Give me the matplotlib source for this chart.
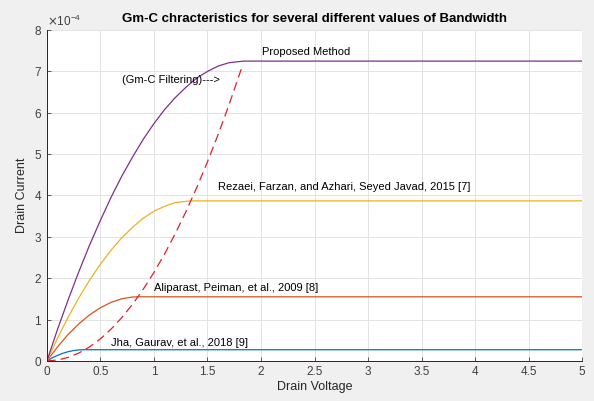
import numpy as np
from matplotlib import pyplot as plt
from matplotlib.ticker import ScalarFormatter

plt.rcParams['font.family'] = ['Liberation Sans', 'DejaVu Sans']

# curve points (x in V, y in units of 1e-4 A)
x_prop = [0, 0.1, 0.2, 0.3, 0.4, 0.5, 0.6, 0.7, 0.8, 0.9, 1.0, 1.1, 1.2, 1.3, 1.4, 1.5, 1.6, 1.7, 1.84, 5]
y_prop = [0, 0.77, 1.49, 2.17, 2.81, 3.40, 3.96, 4.47, 4.93, 5.36, 5.74, 6.08, 6.37, 6.62, 6.84, 7.00, 7.13, 7.21, 7.25, 7.25]

x_rez = [0, 0.1, 0.2, 0.3, 0.4, 0.5, 0.6, 0.7, 0.8, 0.9, 1.0, 1.1, 1.2, 1.345, 5]
y_rez = [0, 0.554, 1.065, 1.534, 1.96, 2.34, 2.68, 2.98, 3.23, 3.45, 3.62, 3.74, 3.83, 3.87, 3.87]

x_ali = [0, 0.1, 0.2, 0.3, 0.4, 0.5, 0.6, 0.7, 0.8, 0.85, 5]
y_ali = [0, 0.343, 0.644, 0.901, 1.116, 1.287, 1.416, 1.502, 1.545, 1.55, 1.55]

x_jha = [0, 0.05, 0.1, 0.15, 0.2, 0.25, 0.3, 0.34, 5]
y_jha = [0, 0.074, 0.135, 0.186, 0.224, 0.251, 0.266, 0.27, 0.27]

x_gmc = [0, 0.1, 0.2, 0.3, 0.4, 0.5, 0.6, 0.7, 0.8, 0.9, 1.0, 1.1, 1.2, 1.3, 1.4, 1.5, 1.6, 1.7, 1.83]
y_gmc = [0, 0.021, 0.086, 0.193, 0.342, 0.535, 0.770, 1.049, 1.370, 1.733, 2.14, 2.589, 3.082, 3.617, 4.194, 4.815, 5.478, 6.185, 7.167]

scale = 1e-4

fig = plt.figure(figsize=(5.94, 4.01), dpi=100, facecolor='#f0f0f0')
ax = fig.add_axes([0.079, 0.1, 0.901, 0.825])

ax.plot(x_jha, np.array(y_jha) * scale, color='#0072BD', lw=0.9)
ax.plot(x_ali, np.array(y_ali) * scale, color='#D95319', lw=0.9)
ax.plot(x_rez, np.array(y_rez) * scale, color='#EDB120', lw=0.9)
ax.plot(x_prop, np.array(y_prop) * scale, color='#7E2F8E', lw=0.9)
ax.plot(x_gmc, np.array(y_gmc) * scale, color='#e0202a', lw=0.9, ls=(0, (7, 4)))

ax.text(2.01, 7.46e-4, 'Proposed Method', fontsize=8, va='center')
ax.text(0.70, 6.79e-4, '(Gm-C Filtering)--->', fontsize=8, va='center')
ax.text(1.60, 4.20e-4, 'Rezaei, Farzan, and Azhari, Seyed Javad, 2015 [7]', fontsize=8, va='center')
ax.text(1.00, 1.76e-4, 'Aliparast, Peiman, et al., 2009 [8]', fontsize=8, va='center')
ax.text(0.60, 0.43e-4, 'Jha, Gaurav, et al., 2018 [9]', fontsize=8, va='center')

ax.set_xlim(0, 5)
ax.set_ylim(0, 8e-4)
ax.set_xticks(np.arange(0, 5.01, 0.5))
ax.set_xticklabels(['0', '0.5', '1', '1.5', '2', '2.5', '3', '3.5', '4', '4.5', '5'])
ax.set_yticks(np.arange(0, 8.01, 1) * scale)
fmt = ScalarFormatter(useMathText=True)
fmt.set_powerlimits((0, 0))
ax.yaxis.set_major_formatter(fmt)
ax.yaxis.get_offset_text().set_fontsize(8.5)
ax.yaxis.get_offset_text().set_color('#404040')

ax.grid(True, color='#e3e3e3', lw=0.7)
ax.set_axisbelow(True)
for s in ['top', 'right']:
    ax.spines[s].set_visible(False)
for s in ['left', 'bottom']:
    ax.spines[s].set_color('#262626')
    ax.spines[s].set_linewidth(0.7)
ax.tick_params(direction='in', length=3, width=0.6, labelsize=8.5, colors='#404040')

ax.set_title('Gm-C chracteristics for several different values of Bandwidth',
             fontsize=9.5, fontweight='bold', pad=6)
ax.set_xlabel('Drain Voltage', fontsize=9, color='#262626', labelpad=2)
ax.set_ylabel('Drain Current', fontsize=9, color='#262626', labelpad=4)

fig.savefig('out.png', dpi=100, facecolor=fig.get_facecolor())
